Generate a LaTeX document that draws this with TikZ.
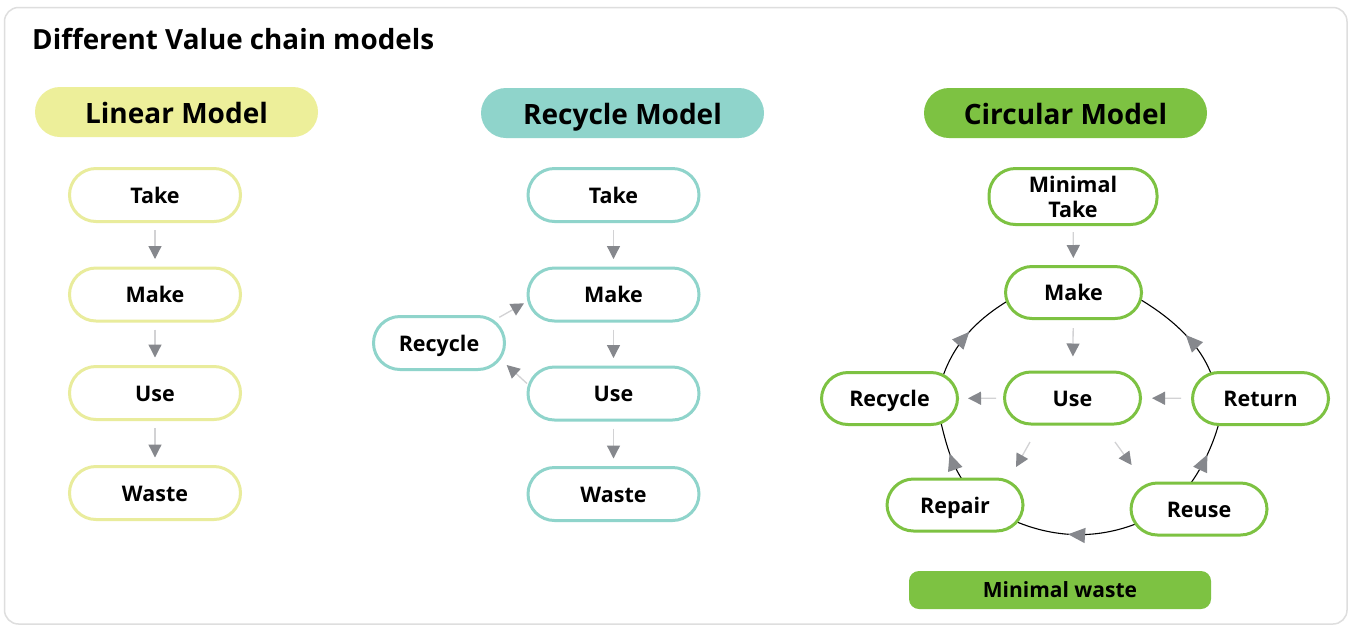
\documentclass[tikz,border=0pt]{standalone}
\usepackage{fontspec}
\setmainfont{Open Sans}
\usetikzlibrary{arrows.meta,decorations.markings}
\definecolor{linY}{HTML}{EDEF9A}
\definecolor{linB}{HTML}{E9EC9C}
\definecolor{recT}{HTML}{8FD4CB}
\definecolor{cirG}{HTML}{7DC242}
\definecolor{shaftg}{HTML}{D2D2D4}
\definecolor{tipg}{HTML}{86888D}
\definecolor{frameg}{HTML}{DEDEDE}
\pgfdeclarelayer{bg}
\pgfdeclarelayer{paper}
\pgfsetlayers{paper,bg,main}
\begin{document}
\begin{tikzpicture}[x=1pt,y=-1pt,
  box/.style={draw, line width=3pt, fill=white, rounded corners=26.5pt,
    minimum width=171pt, minimum height=53pt, inner sep=0pt,
    font=\fontsize{21.5}{25}\selectfont\bfseries, text height=16pt, text depth=0pt},
  lbox/.style={box, draw=linB},
  rbox/.style={box, draw=recT},
  cbox/.style={box, draw=cirG, minimum width=136pt, minimum height=52pt},
  hdr/.style={rounded corners=25pt, minimum width=283pt, minimum height=50pt,
    inner sep=0pt, font=\fontsize{28}{32}\selectfont\bfseries, text height=22.6pt, text depth=0pt},
  arr/.style={draw=shaftg, line width=1.3pt, -{Triangle[length=13pt,width=13pt,color=tipg]}},
  cv/.style={draw=black, line width=1.1pt, postaction={decorate},
    decoration={markings, mark=at position #1 with {\arrow{Triangle[length=17pt,width=15pt,color=tipg]}}}},
  cv/.default=0.5
]
\useasboundingbox (0,0) rectangle (1351,625);
\begin{pgfonlayer}{paper}
\fill[white] (0,0) rectangle (1351,625);
\draw[frameg, line width=1.5pt, rounded corners=14pt] (4.5,7.5) rectangle (1347,624);
\end{pgfonlayer}

\node[anchor=base west, font=\fontsize{27.8}{32}\selectfont\bfseries, inner sep=0pt] (title) at (32,49.5) {Different Value chain models};

% headers
\node[hdr, fill=linY] (h1) at (176.5,112) {Linear Model};
\node[hdr, fill=recT] (h2) at (622.5,113) {Recycle Model};
\node[hdr, fill=cirG] (h3) at (1065.5,113) {Circular Model};

% linear
\node[lbox] (lt) at (155,195) {Take};
\node[lbox] (lm) at (155,294.5) {Make};
\node[lbox] (lu) at (155,393) {Use};
\node[lbox] (lw) at (155,493) {Waste};
\draw[arr, shorten <=7pt, shorten >=7.5pt] (lt) -- (lm);
\draw[arr, shorten <=7pt, shorten >=7.5pt] (lm) -- (lu);
\draw[arr, shorten <=7pt, shorten >=7.5pt] (lu) -- (lw);

% recycle
\node[rbox] (rt) at (613.5,195) {Take};
\node[rbox] (rm) at (613.5,294.5) {Make};
\node[rbox] (ru) at (613.5,393.5) {Use};
\node[rbox] (rw) at (613.5,494) {Waste};
\node[rbox, minimum width=131pt] (rr) at (439,343) {Recycle};
\draw[arr, shorten <=7pt, shorten >=7.5pt] (rt) -- (rm);
\draw[arr, shorten <=7pt, shorten >=7.5pt] (rm) -- (ru);
\draw[arr, shorten <=7pt, shorten >=7.5pt] (ru) -- (rw);
\draw[arr] ([shift={(60.3,-25.7)}]rr.center) -- ([shift={(-89.5,8.8)}]rm.center);
\draw[arr] ([shift={(-86.5,-10)}]ru.center) -- ([shift={(67.7,22)}]rr.center);

% circular
\node[cbox, minimum width=168pt, minimum height=56pt, text height=, align=center] (ct) at (1073,196.5) {Minimal\\Take};
\node[cbox] (cm) at (1073.5,292.5) {Make};
\node[cbox] (cu) at (1072.5,398) {Use};
\node[cbox] (cr) at (889.5,398.5) {Recycle};
\node[cbox] (cre) at (1260.5,398.5) {Return};
\node[cbox] (cp) at (955,505) {Repair};
\node[cbox] (cs) at (1199,509) {Reuse};
\node[fill=cirG, rounded corners=10pt, minimum width=302pt, minimum height=38pt, inner sep=0pt,
  font=\fontsize{21}{24}\selectfont\bfseries, text height=14pt, text depth=0pt] (mw) at (1060,590) {Minimal waste};

\draw[arr, shorten <=6pt, shorten >=7pt] (ct) -- (cm);
\draw[arr, shorten <=8pt, shorten >=14pt] (cm) -- (cu);
\draw[arr, shorten <=7pt, shorten >=9pt] (cu) -- (cr);
\draw[arr, shorten <=10pt, shorten >=10pt] (cre) -- (cu);
\draw[arr] ([shift={(-42.5,44)}]cu.center) -- ([shift={(61,-38)}]cp.center);
\draw[arr] ([shift={(42.5,44)}]cu.center) -- ([shift={(-67.4,-44)}]cs.center);

\begin{pgfonlayer}{bg}
\draw[cv] ([shift={(52,-18)}]cr.center) .. controls +(12,-38) and +(-35,20) .. ([shift={(-60,5)}]cm.center);
\draw[cv=0.45] ([shift={(-47,-18)}]cre.center) .. controls +(-12,-38) and +(35,20) .. ([shift={(60,3)}]cm.center);
\draw[cv] ([shift={(11,-20)}]cp.center) .. controls +(-15,-20) and +(6,24) .. ([shift={(50.5,20.5)}]cr.center);
\draw[cv] ([shift={(-11,-22)}]cs.center) .. controls +(15,-20) and +(-6,24) .. ([shift={(-40.5,20.5)}]cre.center);
\draw[cv=0.56] ([shift={(-56,12)}]cs.center) .. controls +(-44,19) and +(44,20) .. ([shift={(55,14)}]cp.center);
\end{pgfonlayer}
\end{tikzpicture}
\end{document}
